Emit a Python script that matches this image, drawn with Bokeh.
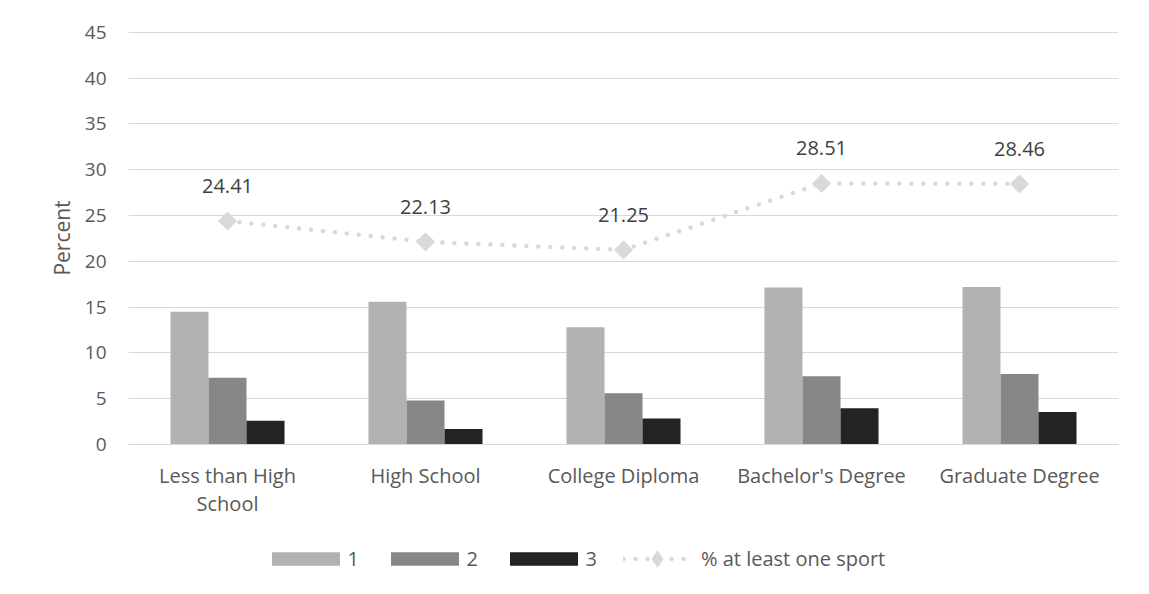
from bokeh.plotting import figure
from bokeh.layouts import column
from bokeh.models import (ColumnDataSource, FactorRange, Range1d, FixedTicker,
                          Legend, LegendItem)
from bokeh.transform import dodge
from bokeh.core.properties import value
from bokeh.embed import file_html
from bokeh.resources import INLINE

# ---- data ----
categories = ["Less than High\nSchool", "High School", "College Diploma",
              "Bachelor's Degree", "Graduate Degree"]
sport_1 = [14.5, 15.6, 12.8, 17.15, 17.2]
sport_2 = [7.3, 4.8, 5.6, 7.45, 7.7]
sport_3 = [2.6, 1.7, 2.85, 3.95, 3.55]
at_least_one = [24.41, 22.13, 21.25, 28.51, 28.46]
at_least_one_labels = ["24.41", "22.13", "21.25", "28.51", "28.46"]
series_names = ["1", "2", "3", "% at least one sport"]
y_ticks = [0, 5, 10, 15, 20, 25, 30, 35, 40, 45]

# ---- style ----
FONT = "Open Sans"
C1, C2, C3 = "#b2b2b2", "#878787", "#232323"
LINE_C = "#d9d9d9"
TXT = "#595959"
W = 1145
NAN = float("nan")

src = ColumnDataSource(dict(cat=categories, s1=sport_1, s2=sport_2, s3=sport_3,
                            tot=at_least_one, lab=at_least_one_labels))

p = figure(width=W, height=530, x_range=FactorRange(*categories),
           y_range=Range1d(0, 45.1), output_backend="svg", toolbar_location=None,
           min_border_left=128, min_border_right=27, min_border_top=31,
           min_border_bottom=86)
p.outline_line_color = None
p.background_fill_color = "white"
p.border_fill_color = "white"

bw = 0.192
p.vbar(x=dodge("cat", -bw, range=p.x_range), top="s1", width=bw, source=src,
       fill_color=C1, line_color=None)
p.vbar(x=dodge("cat", 0.0, range=p.x_range), top="s2", width=bw, source=src,
       fill_color=C2, line_color=None)
p.vbar(x=dodge("cat", bw, range=p.x_range), top="s3", width=bw, source=src,
       fill_color=C3, line_color=None)

line_style = dict(line_color=LINE_C, line_width=4.5, line_dash="0 12",
                  line_cap="round")
p.line(x="cat", y="tot", source=src, **line_style)
p.scatter(x="cat", y="tot", source=src, marker="square", angle=0.785398,
          size=13.5, fill_color=LINE_C, line_color=None)
p.text(x="cat", y="tot", text="lab", source=src, y_offset=-35,
       text_align="center", text_baseline="middle", text_font=value(FONT),
       text_font_size="20px", text_color="#404040")

# axes
p.xaxis.axis_line_color = LINE_C
p.xaxis.major_tick_line_color = None
p.xaxis.minor_tick_line_color = None
p.xaxis.major_label_text_font = FONT
p.xaxis.major_label_text_font_size = "20px"
p.xaxis.major_label_text_color = TXT
p.xaxis.major_label_standoff = 11
p.xaxis.major_label_text_line_height = 1.07

p.yaxis.ticker = FixedTicker(ticks=y_ticks)
p.yaxis.axis_line_color = None
p.yaxis.major_tick_line_color = None
p.yaxis.minor_tick_line_color = None
p.yaxis.major_label_text_font = FONT
p.yaxis.major_label_text_font_size = "19px"
p.yaxis.major_label_text_color = TXT
p.yaxis.major_label_standoff = 16
p.yaxis.axis_label = "Percent"
p.yaxis.axis_label_text_font = FONT
p.yaxis.axis_label_text_font_size = "21px"
p.yaxis.axis_label_text_font_style = "normal"
p.yaxis.axis_label_text_color = TXT
p.yaxis.axis_label_standoff = 6

p.xgrid.grid_line_color = None
p.ygrid.grid_line_color = LINE_C
p.ygrid.grid_line_width = 1

# ---- legend strip: key glyphs only (NaN point, so nothing is drawn) ----
lg = figure(width=W, height=60, x_range=Range1d(0, 1), y_range=Range1d(0, 1),
            output_backend="svg", toolbar_location=None,
            x_axis_type=None, y_axis_type=None, min_border=0)
lg.outline_line_color = None
lg.xgrid.visible = False
lg.ygrid.visible = False
k1 = lg.vbar(x=[NAN], top=[NAN], width=0.1, fill_color=C1, line_color=None)
k2 = lg.vbar(x=[NAN], top=[NAN], width=0.1, fill_color=C2, line_color=None)
k3 = lg.vbar(x=[NAN], top=[NAN], width=0.1, fill_color=C3, line_color=None)
kl = lg.line(x=[NAN, NAN], y=[NAN, NAN], **line_style)
km = lg.scatter(x=[NAN], y=[NAN], marker="diamond", fill_color=LINE_C,
                line_color=None)

leg_style = dict(orientation="horizontal", padding=0, margin=0,
                 border_line_color=None, background_fill_alpha=0,
                 label_text_font=FONT, label_text_font_size="20px",
                 label_text_color=TXT, label_height=17)
leg1 = Legend(items=[LegendItem(label=series_names[0], renderers=[k1]),
                     LegendItem(label=series_names[1], renderers=[k2]),
                     LegendItem(label=series_names[2], renderers=[k3])],
              location=(134.5, 18), glyph_width=85, glyph_height=17,
              label_standoff=0, spacing=14, **leg_style)
leg2 = Legend(items=[LegendItem(label=series_names[3], renderers=[kl, km])],
              location=(495, 9.5), glyph_width=68, glyph_height=45,
              label_standoff=10, **leg_style)
lg.add_layout(leg1)
lg.add_layout(leg2)

layout = column(p, lg, spacing=0)
open("out.html", "w").write(file_html(layout, INLINE))
